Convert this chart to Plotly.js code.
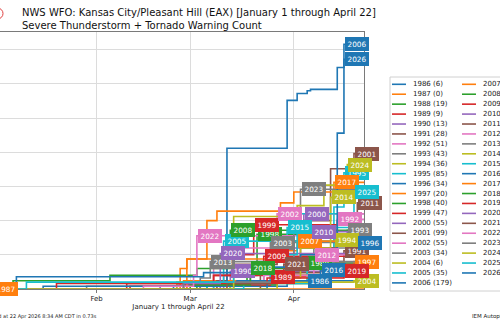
<!DOCTYPE html>
<html><head><meta charset="utf-8">
<script src="https://cdn.plot.ly/plotly-3.0.1.min.js"></script>
<style>
html,body{margin:0;padding:0;overflow:hidden;background:#fff;width:500px;height:321px}
#chart{position:absolute;left:-57px;top:0;width:557px;height:321px}
</style>
</head><body><div id="chart"></div>
<script>
// ---------- data (MM-DD of each step; counts are cumulative) ----------
const years = [1986,1987,1988,1989,1990,1991,1992,1993,1994,1995,1996,1997,1998,1999,2000,2001,2002,2003,2004,2005,2006,
               2007,2008,2009,2010,2011,2012,2013,2014,2015,2016,2017,2018,2019,2020,2021,2022,2023,2024,2025,2026];
const d1986 = ["03-14","03-30","04-05"];                 const c1986 = [2,4,6];
const d1987 = [];                                        const c1987 = [];
const d1988 = ["03-06","03-27","04-05"];                 const c1988 = [3,10,19];
const d1989 = ["03-13","03-25"];                         const c1989 = [3,9];
const d1990 = ["02-20","03-13"];                         const c1990 = [2,13];
const d1991 = ["03-22","03-29","04-09","04-16"];         const c1991 = [6,12,20,28];
const d1992 = ["03-08","03-26","04-09","04-14"];         const c1992 = [5,15,30,51];
const d1993 = ["03-04","03-29","04-07","04-17"];         const c1993 = [6,18,30,43];
const d1994 = ["03-13","04-05","04-13"];                 const c1994 = [4,20,36];
const d1995 = ["03-06","04-05","04-13","04-16"];         const c1995 = [4,20,60,85];
const d1996 = ["03-24","04-10","04-20"];                 const c1996 = [5,15,34];
const d1997 = ["02-27","03-26","04-19"];                 const c1997 = [6,10,20];
const d1998 = ["03-03","03-18","03-21"];                 const c1998 = [3,15,40];
const d1999 = ["02-11","03-08","03-14","03-20"];         const c1999 = [2,10,25,47];
const d2000 = ["03-11","03-21","03-27","04-04"];         const c2000 = [10,20,35,55];
const d2001 = ["03-09","03-12","03-27","04-04","04-12","04-19"]; const c2001 = [6,18,35,50,88,99];
const d2002 = ["02-25","03-08","03-12","03-27"];         const c2002 = [3,15,30,55];
const d2003 = ["03-04","03-19","03-25"];                 const c2003 = [4,12,34];
const d2004 = ["02-25","04-19"];                         const c2004 = [5,6];
const d2005 = ["03-08","03-11"];                         const c2005 = [5,35];
const d2006 = ["02-24","03-12","03-30","04-02","04-05","04-06","04-14","04-16"]; const c2006 = [2,103,138,143,145,146,162,179];
const d2007 = ["02-26","02-28","03-28","04-02"];         const c2007 = [15,22,28,35];
const d2008 = ["01-07","02-05","03-03","03-13"];         const c2008 = [6,10,15,43];
const d2009 = ["02-10","03-08","03-23"];                 const c2009 = [4,10,24];
const d2010 = ["03-10","03-23","04-01","04-06"];         const c2010 = [5,12,30,42];
const d2011 = ["02-27","03-22","04-03","04-14","04-20"]; const c2011 = [3,12,30,50,63];
const d2012 = ["02-28","03-23","04-07"];                 const c2012 = [4,10,25];
const d2013 = ["01-29","03-04","03-07"];                 const c2013 = [2,8,20];
const d2014 = ["03-27","04-03","04-12"];                 const c2014 = [8,30,67];
const d2015 = ["03-17","03-25","03-30"];                 const c2015 = [5,25,45];
const d2016 = ["01-16","03-15","04-09"];                 const c2016 = [2,6,14];
const d2017 = ["02-28","03-06","03-09","03-28","04-01","04-13"]; const c2017 = [22,50,57,63,71,78];
const d2018 = ["03-01","03-19"];                         const c2018 = [3,15];
const d2019 = ["01-20","03-24","04-16"];                 const c2019 = [4,8,13];
const d2020 = ["02-27","03-10"];                         const c2020 = [4,26];
const d2021 = ["03-12","03-27","03-29"];                 const c2021 = [4,10,18];
const d2022 = ["02-15","03-02","03-03"];                 const c2022 = [2,10,39];
const d2023 = ["02-27","03-31","04-01","04-03"];         const c2023 = [5,20,48,73];
const d2024 = ["03-14","04-02","04-10","04-17"];         const c2024 = [53,61,76,91];
const d2025 = ["01-11","03-14","03-30","04-02","04-19"]; const c2025 = [5,12,25,55,71];
const d2026 = ["01-08","03-05","03-14","04-03","04-14","04-16"]; const c2026 = [9,12,16,25,114,168];

const monthTicks = ["01-01","02-01","03-01","04-01"];
const monthLabels = ["Jan","Feb","Mar","Apr"];
const startDay = "01-01", endDay = "04-22";

// ---------- build ----------
const stepDates = [d1986,d1987,d1988,d1989,d1990,d1991,d1992,d1993,d1994,d1995,d1996,d1997,d1998,d1999,d2000,d2001,d2002,d2003,d2004,d2005,d2006,
                   d2007,d2008,d2009,d2010,d2011,d2012,d2013,d2014,d2015,d2016,d2017,d2018,d2019,d2020,d2021,d2022,d2023,d2024,d2025,d2026];
const stepCounts = [c1986,c1987,c1988,c1989,c1990,c1991,c1992,c1993,c1994,c1995,c1996,c1997,c1998,c1999,c2000,c2001,c2002,c2003,c2004,c2005,c2006,
                    c2007,c2008,c2009,c2010,c2011,c2012,c2013,c2014,c2015,c2016,c2017,c2018,c2019,c2020,c2021,c2022,c2023,c2024,c2025,c2026];
const palette = ["#1f77b4","#ff7f0e","#2ca02c","#d62728","#9467bd","#8c564b","#e377c2","#7f7f7f","#bcbd22","#17becf"];
const Y = "2026-";
const FONT = "DejaVu Sans";

// geometry helpers (screen px -> paper)
const X0 = 57, ML = 50, PW = 371, MT = 32, PH = 257;
const px = x => (x + X0 - ML) / PW;
const py = y => (MT + PH - y) / PH;

const traces = [], annotations = [], shapes = [];
years.forEach((yr, i) => {
  const col = palette[i % 10];
  const ds = stepDates[i], cs = stepCounts[i];
  const x = [Y + startDay].concat(ds.map(d => Y + d)).concat([Y + endDay]);
  const total = cs.length ? cs[cs.length - 1] : 0;
  const y = [0].concat(cs).concat([total]);
  traces.push({type: "scatter", mode: "lines", x, y, name: `${yr} (${total})`,
    line: {color: col, width: 1.6, shape: "hv"}, showlegend: false, hoverinfo: "skip"});
  const lastX = ds.length ? Y + ds[ds.length - 1] : Y + startDay;
  annotations.push({x: lastX, y: total, xref: "x", yref: "y", text: String(yr), showarrow: false,
    xanchor: "left", yanchor: "middle", xshift: 1, bgcolor: col, bordercolor: col, borderwidth: 1, borderpad: 1.5,
    font: {family: FONT, size: 7.3, color: "#fff"}});
  // compact legend drawn with shapes + text
  const colIdx = i < 21 ? 0 : 1;
  const row = colIdx ? i - 21 : i;
  const ly = 84.3 + row * 9.93;
  const sx = colIdx ? 462 : 392;
  shapes.push({type: "line", xref: "paper", yref: "paper", x0: px(sx), x1: px(sx + 14), y0: py(ly), y1: py(ly),
    line: {color: col, width: 1.6}});
  annotations.push({x: px(sx + 19), y: py(ly), xref: "paper", yref: "paper", text: `${yr} (${total})`, showarrow: false,
    xanchor: "left", yanchor: "middle", font: {family: FONT, size: 7, color: "#222"}});
});
// legend frame
shapes.unshift({type: "rect", xref: "paper", yref: "paper", x0: px(390), x1: px(520), y0: py(291), y1: py(77),
  line: {color: "#d0d0d0", width: 1}, fillcolor: "#fff", layer: "below"});
// logo hint
shapes.push({type: "circle", xref: "paper", yref: "paper", x0: px(-8), x1: px(3), y0: py(19), y1: py(8),
  line: {color: "#e04040", width: 1}});
annotations.push({x: px(99), y: py(316), xref: "paper", yref: "paper", text: "Generated at 22 Apr 2026 8:34 AM CDT in 0.73s",
  showarrow: false, xanchor: "right", yanchor: "middle", font: {family: FONT, size: 5, color: "#222"}});
annotations.push({x: px(470), y: py(316), xref: "paper", yref: "paper", text: "IEM Autoplot App",
  showarrow: false, xanchor: "left", yanchor: "middle", font: {family: FONT, size: 5.5, color: "#222"}});

const layout = {
  width: 557, height: 321,
  margin: {l: ML, r: 557 - ML - PW, t: MT, b: 321 - MT - PH, pad: 0},
  paper_bgcolor: "#fff", plot_bgcolor: "#fff",
  font: {family: FONT, size: 7, color: "#222"},
  title: {text: "NWS WFO: Kansas City/Pleasant Hill (EAX) [January 1 through April 22]<br>Severe Thunderstorm + Tornado Warning Count",
    xref: "container", x: (22 + X0) / 557, xanchor: "left", yref: "container", y: 1 - 16 / 321, yanchor: "top",
    font: {family: FONT, size: 10, color: "#111"}},
  xaxis: {type: "date", range: [Y + startDay, Y + endDay], tickvals: monthTicks.map(d => Y + d), ticktext: monthLabels,
    showgrid: true, gridcolor: "#dcdcdc", gridwidth: 1, zeroline: false,
    showline: true, mirror: true, linecolor: "#7a7a7a", linewidth: 1,
    ticks: "outside", ticklen: 3, tickcolor: "#7a7a7a", tickfont: {family: FONT, size: 7, color: "#222"},
    title: {text: "January 1 through April 22", font: {family: FONT, size: 7, color: "#222"}, standoff: 0}},
  yaxis: {range: [0, 188], dtick: 25, showgrid: true, gridcolor: "#dcdcdc", gridwidth: 1, zeroline: false,
    showline: true, mirror: true, linecolor: "#7a7a7a", linewidth: 1, ticks: "", showticklabels: false},
  showlegend: false,
  annotations, shapes
};
Plotly.newPlot("chart", traces, layout, {displayModeBar: false, staticPlot: true});
</script>
</body></html>
